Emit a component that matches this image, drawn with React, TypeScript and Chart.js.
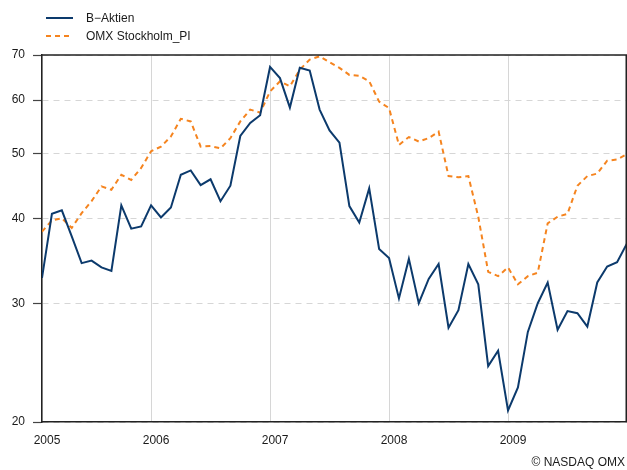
import React, { useEffect, useRef } from "react";
import { Chart, registerables } from "chart.js";

Chart.register(...registerables);

const MONTHS = [
  "2005-01","2005-02","2005-03","2005-04","2005-05","2005-06","2005-07","2005-08","2005-09","2005-10","2005-11","2005-12",
  "2006-01","2006-02","2006-03","2006-04","2006-05","2006-06","2006-07","2006-08","2006-09","2006-10","2006-11","2006-12",
  "2007-01","2007-02","2007-03","2007-04","2007-05","2007-06","2007-07","2007-08","2007-09","2007-10","2007-11","2007-12",
  "2008-01","2008-02","2008-03","2008-04","2008-05","2008-06","2008-07","2008-08","2008-09","2008-10","2008-11","2008-12",
  "2009-01","2009-02","2009-03","2009-04","2009-05","2009-06","2009-07","2009-08","2009-09","2009-10","2009-11","2009-12",
];

const B_AKTIEN = [
  32.7, 40.7, 41.2, 37.7, 34.4, 34.7, 33.9, 33.5, 41.9, 38.7, 39.0, 41.9,
  40.2, 41.6, 46.5, 47.2, 44.9, 45.8, 42.5, 44.8, 53.1, 55.5, 57.0, 67.2,
  64.7, 58.5, 67.0, 66.4, 58.1, 54.1, 51.9, 41.8, 39.5, 44.4, 36.1, 35.0,
  30.5, 34.9, 30.0, 32.6, 34.3, 27.6, 29.3, 34.3, 32.0, 24.2, 25.5, 20.8,
  22.5, 27.2, 30.0, 32.2, 27.4, 29.2, 29.0, 27.7, 32.2, 34.0, 34.5, 36.8,
];

const OMX_PI = [
  38.3, 39.8, 40.1, 38.8, 40.8, 42.5, 44.7, 44.2, 46.5, 45.7, 47.6, 50.4,
  51.2, 53.0, 56.3, 55.8, 51.2, 51.3, 50.9, 52.7, 55.8, 58.1, 57.5, 61.8,
  64.0, 62.9, 66.6, 68.9, 69.7, 68.3, 67.0, 65.4, 65.2, 64.0, 59.7, 58.4,
  51.5, 52.9, 52.1, 52.7, 53.9, 46.3, 46.1, 46.3, 40.3, 33.4, 32.9, 33.9,
  32.0, 32.9, 33.3, 39.4, 40.3, 40.7, 44.8, 46.3, 46.7, 48.8, 49.0, 49.9,
];

const SERIES_LABELS = ["B\u2212Aktien", "OMX Stockholm_PI"];
const Y_TICKS = [20, 30, 40, 50, 60, 70];
const YEAR_TICKS = [2006, 2007, 2008, 2009];
const CREDIT = "\u00A9 NASDAQ OMX";

const FONT = "'Liberation Sans', Arial, Helvetica, sans-serif";
const BLUE = "#0c3a6c";
const ORANGE = "#f5841f";

// month-end position as decimal year
const toX = (m: string) => {
  const [y, mo] = m.split("-").map(Number);
  return y + mo / 12;
};

const X_MIN = toX(MONTHS[0]);
const X_MAX = toX(MONTHS[MONTHS.length - 1]);

export default function App() {
  const ref = useRef<HTMLCanvasElement | null>(null);

  useEffect(() => {
    document.body.style.margin = "0";
    const canvas = ref.current;
    if (!canvas) return;

    const extras = {
      id: "extras",
      afterDraw(chart: any) {
        const { ctx, chartArea } = chart;
        ctx.save();
        // frame
        ctx.strokeStyle = "#222";
        ctx.lineWidth = 1.5;
        ctx.beginPath();
        ctx.moveTo(chartArea.left, chartArea.top);
        ctx.lineTo(chartArea.right - 0.75, chartArea.top);
        ctx.lineTo(chartArea.right - 0.75, chartArea.bottom);
        ctx.stroke();
        // legend
        ctx.font = `12px ${FONT}`;
        ctx.textBaseline = "middle";
        ctx.textAlign = "left";
        chart.data.datasets.forEach((ds: any, i: number) => {
          const y = 18 + i * 18;
          ctx.strokeStyle = ds.borderColor;
          ctx.lineWidth = ds.borderWidth;
          ctx.setLineDash(ds.borderDash || []);
          ctx.beginPath();
          ctx.moveTo(46, y);
          ctx.lineTo(73, y);
          ctx.stroke();
          ctx.setLineDash([]);
          ctx.fillStyle = "#1a1a1a";
          ctx.fillText(ds.label, 86, y + 0.5);
        });
        // credit
        ctx.textAlign = "right";
        ctx.fillText(CREDIT, 625, 463);
        ctx.restore();
      },
    };

    const chart = new Chart(canvas, {
      type: "line",
      data: {
        datasets: [
          {
            label: SERIES_LABELS[0],
            data: MONTHS.map((m, i) => ({ x: toX(m), y: B_AKTIEN[i] })),
            borderColor: BLUE,
            borderWidth: 2,
            pointRadius: 0,
            tension: 0,
            fill: false,
          },
          {
            label: SERIES_LABELS[1],
            data: MONTHS.map((m, i) => ({ x: toX(m), y: OMX_PI[i] })),
            borderColor: ORANGE,
            borderWidth: 2,
            borderDash: [5, 4],
            pointRadius: 0,
            tension: 0,
            fill: false,
          },
        ],
      },
      options: {
        animation: false,
        responsive: false,
        devicePixelRatio: 1,
        layout: { padding: { top: 55, right: 0, bottom: 0, left: 0 } },
        plugins: {
          legend: { display: false },
          tooltip: { enabled: false },
        },
        scales: {
          x: {
            type: "linear",
            min: X_MIN,
            max: X_MAX,
            afterBuildTicks: (scale: any) => {
              scale.ticks = [X_MIN, ...YEAR_TICKS].map((v) => ({ value: v }));
            },
            afterFit: (scale: any) => {
              scale.height = 48;
            },
            ticks: {
              autoSkip: false,
              maxRotation: 0,
              padding: 11,
              labelOffset: 5,
              color: "#1a1a1a",
              font: { family: FONT, size: 12 },
              callback: (v: any) => String(Math.floor(Number(v) + 1e-9)),
            },
            grid: {
              color: "#d6d6d6",
              lineWidth: 1,
              drawTicks: false,
            },
            border: { display: true, color: "#222", width: 1.5 },
          },
          y: {
            type: "logarithmic",
            min: 20,
            max: 70,
            afterBuildTicks: (scale: any) => {
              scale.ticks = Y_TICKS.map((v) => ({ value: v }));
            },
            afterFit: (scale: any) => {
              scale.width = 42;
            },
            ticks: {
              padding: 8,
              color: "#1a1a1a",
              font: { family: FONT, size: 12 },
              callback: (v: any) => String(v),
            },
            grid: {
              color: "#d6d6d6",
              lineWidth: 1,
              drawTicks: true,
              tickLength: 9,
              tickColor: "#444",
              tickWidth: 1.2,
            },
            border: { display: true, color: "#222", width: 1.5, dash: [6, 5] },
          },
        },
      },
      plugins: [extras],
    } as any);

    return () => chart.destroy();
  }, []);

  return <canvas ref={ref} width={627} height={470} style={{ display: "block" }} />;
}
